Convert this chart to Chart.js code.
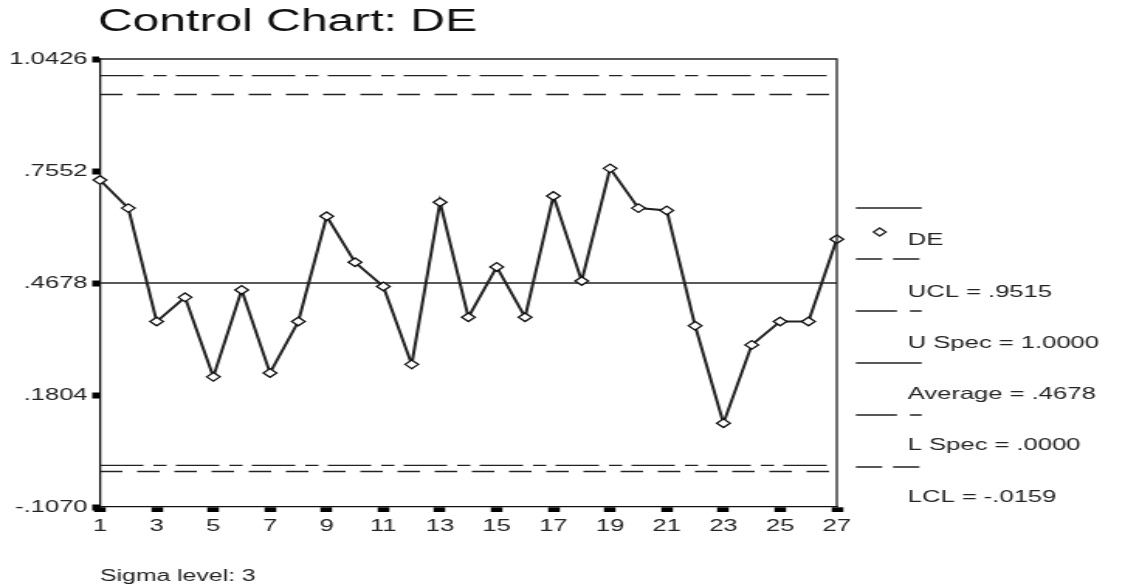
<!DOCTYPE html>
<html>
<head>
<meta charset="utf-8">
<title>Control Chart: DE</title>
<script src="https://cdn.jsdelivr.net/npm/chart.js@4.4.1/dist/chart.umd.min.js"></script>
<style>
  html, body { margin: 0; padding: 0; background: #fff; overflow: hidden; }
  /* the original picture is stretched sideways, so the whole chart is too */
  #wrap { position: absolute; left: 0; top: 0; width: 726px; height: 588px;
          transform: scaleX(1.5496); transform-origin: 0 0; }
</style>
</head>
<body>
<div id="wrap"><canvas id="chart"></canvas></div>
<script>
// ---------------- DATA ----------------
const samples = [1, 2, 3, 4, 5, 6, 7, 8, 9, 10, 11, 12, 13, 14, 15, 16, 17, 18, 19, 20, 21, 22, 23, 24, 25, 26, 27];
const deValues = [0.732, 0.660, 0.369, 0.431, 0.227, 0.450, 0.237, 0.369, 0.639, 0.521, 0.459, 0.259, 0.675, 0.380,
                  0.509, 0.380, 0.691, 0.473, 0.762, 0.660, 0.654, 0.358, 0.108, 0.309, 0.369, 0.369, 0.580];

const limitNames  = ["UCL", "U Spec", "Average", "L Spec", "LCL"];
const limitValues = [0.9515, 1.0000, 0.4678, 0.0000, -0.0159];
const limitLabels = ["UCL = .9515", "U Spec = 1.0000", "Average = .4678", "L Spec = .0000", "LCL = -.0159"];

const yTickValues = [-0.1070, 0.1804, 0.4678, 0.7552, 1.0426];
const yTickLabels = ["-.1070", ".1804", ".4678", ".7552", "1.0426"];
const xTickValues = [1, 3, 5, 7, 9, 11, 13, 15, 17, 19, 21, 23, 25, 27];

const titleText = "Control Chart: DE";
const seriesName = "DE";
const footText = "Sigma level: 3";

// ---------------- STYLES ----------------
const dashed = [14.5, 9.5];
const dashDot = [28, 6.5, 8.5, 6];
const limitDash = [dashed, dashDot, [], dashDot, dashed];
const legendDash = [[17, 7], [26.5, 8.4, 8, 30], [], [26.5, 8.4, 8, 30], [17, 7]];

Chart.defaults.font.family = "'Liberation Sans', Arial, sans-serif";
Chart.defaults.color = "#222";

const limitSets = limitValues.map((v, i) => ({
  label: limitNames[i],
  data: [{ x: samples[0], y: v }, { x: samples[samples.length - 1], y: v }],
  borderColor: "#222",
  borderWidth: 1.3,
  borderDash: limitDash[i],
  pointRadius: 0,
  order: 2
}));

// ---------------- EXTRA DRAWING ----------------
const decor = {
  id: "decor",
  afterDraw(chart) {
    const ctx = chart.ctx;
    const a = chart.chartArea;
    ctx.save();

    // top + right frame
    ctx.strokeStyle = "#222";
    ctx.lineWidth = 1.3;
    ctx.beginPath();
    ctx.moveTo(a.left, a.top);
    ctx.lineTo(a.right, a.top);
    ctx.lineTo(a.right, a.bottom);
    ctx.stroke();

    // title
    ctx.fillStyle = "#111";
    ctx.textBaseline = "alphabetic";
    ctx.font = "31px 'Liberation Sans', Arial, sans-serif";
    ctx.fillText(titleText, 63.2, 31);

    // legend
    const x1 = 552.3, x2 = 594.8, tx = 585.8;
    ctx.font = "16.5px 'Liberation Sans', Arial, sans-serif";
    ctx.textBaseline = "middle";

    ctx.lineWidth = 1.3;
    ctx.setLineDash([]);
    ctx.beginPath();
    ctx.moveTo(x1, 208);
    ctx.lineTo(x2, 208);
    ctx.stroke();

    ctx.beginPath();
    ctx.moveTo(567.7 - 4, 232);
    ctx.lineTo(567.7, 228);
    ctx.lineTo(567.7 + 4, 232);
    ctx.lineTo(567.7, 236);
    ctx.closePath();
    ctx.fillStyle = "#fff";
    ctx.fill();
    ctx.stroke();
    ctx.fillStyle = "#222";
    ctx.fillText(seriesName, tx, 240);

    limitLabels.forEach((lab, i) => {
      const ly = 259 + i * 52;
      ctx.setLineDash(legendDash[i]);
      ctx.beginPath();
      ctx.moveTo(x1, ly);
      ctx.lineTo(x2, ly);
      ctx.stroke();
      ctx.fillText(lab, tx, 292 + i * 51.3);
    });
    ctx.setLineDash([]);

    // footnote
    ctx.font = "16px 'Liberation Sans', Arial, sans-serif";
    ctx.fillText(footText, 64.5, 577);

    ctx.restore();
  }
};

// ---------------- CHART ----------------
const chart = new Chart(document.getElementById("chart"), {
  type: "line",
  data: {
    datasets: [{
      label: seriesName,
      data: samples.map((s, i) => ({ x: s, y: deValues[i] })),
      borderColor: "#222",
      borderWidth: 2,
      pointStyle: "rectRot",
      pointRadius: 4.3,
      pointBorderWidth: 1.3,
      pointBorderColor: "#111",
      pointBackgroundColor: "#fff",
      clip: false,
      order: 1
    }, ...limitSets]
  },
  options: {
    responsive: true,
    maintainAspectRatio: false,
    animation: false,
    layout: { padding: { left: 0, right: 186, top: 59, bottom: 41 } },
    plugins: {
      legend: { display: false },
      title: { display: false },
      tooltip: { enabled: false }
    },
    scales: {
      x: {
        type: "linear",
        min: 1,
        max: 27,
        afterBuildTicks: s => { s.ticks = xTickValues.map(v => ({ value: v })); },
        afterFit: s => { s.height = 40; },
        ticks: { padding: 5, font: { size: 16.5 }, color: "#222", maxRotation: 0, autoSkip: false },
        grid: { drawOnChartArea: false, tickLength: 5, tickWidth: 7.5, tickColor: "#000" },
        border: { color: "#111", width: 1.3 }
      },
      y: {
        min: yTickValues[0],
        max: yTickValues[yTickValues.length - 1],
        afterBuildTicks: s => { s.ticks = yTickValues.map(v => ({ value: v })); },
        afterFit: s => { s.width = 64.5; },
        ticks: {
          padding: 3,
          font: { size: 16.5 },
          color: "#222",
          callback: (v, i) => yTickLabels[i]
        },
        grid: { drawOnChartArea: false, tickLength: 5, tickWidth: 6, tickColor: "#000" },
        border: { color: "#111", width: 1.3 }
      }
    }
  },
  plugins: [decor]
});
</script>
</body>
</html>
